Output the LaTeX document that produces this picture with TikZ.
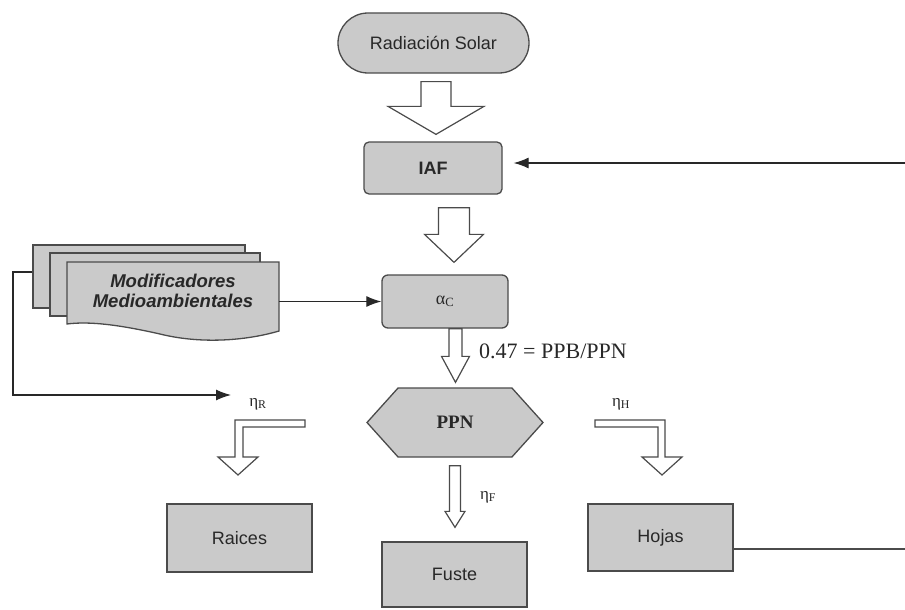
\documentclass[tikz,border=0pt]{standalone}
\usepackage{fontspec}
\setmainfont{Liberation Sans}
\newfontfamily\serifont{Liberation Serif}
\usetikzlibrary{arrows.meta,calc,shapes.symbols}
\definecolor{boxgray}{RGB}{202,202,202}
\definecolor{edge}{RGB}{75,75,75}
\definecolor{txt}{RGB}{40,40,40}
\tikzset{
  box/.style={draw=edge, fill=boxgray, line width=1.3pt, text=txt, inner sep=0pt},
  hollow/.style={draw=edge, fill=white, line width=1.2pt, line join=miter},
  conn/.style={draw=txt, line width=1.2pt, -{Latex[length=15pt,width=11pt]}},
  plainline/.style={draw=edge, line width=1.2pt},
  sanslbl/.style={font=\fontsize{18}{20}\selectfont},
  etalbl/.style={font=\serifont\fontsize{17}{18}\selectfont, text=txt, inner sep=0pt},
}
\newcommand\blockdown[5]{%
  \draw[hollow] let \p1=#1, \p2=#2 in
    (\x2-#3pt,\y1) -- (\x2+#3pt,\y1) -- (\x2+#3pt,\y2+#5pt) -- (\x2+#4pt,\y2+#5pt)
    -- (\x2,\y2) -- (\x2-#4pt,\y2+#5pt) -- (\x2-#3pt,\y2+#5pt) -- cycle;}
\begin{document}
\begin{tikzpicture}[x=1pt,y=-1pt]
\useasboundingbox (0,0) rectangle (905,610);
\fill[white] (0,0) rectangle (905,610);

% main nodes
\node[box, rounded corners=30pt, minimum width=191pt, minimum height=60pt, sanslbl] (rs) at (433.5,43) {Radiación Solar};
\node[box, rounded corners=5pt, minimum width=138pt, minimum height=52pt, font=\bfseries\fontsize{18}{20}\selectfont] (iaf) at (433,168) {IAF};
\node[box, rounded corners=6pt, minimum width=126pt, minimum height=53pt, font=\serifont\fontsize{18}{20}\selectfont] (ac) at (445,301.5) {α\textsubscript{C}};
\node[box, signal, signal to=west and east, signal pointer angle=96, minimum width=176pt, minimum height=69pt, font=\serifont\bfseries\fontsize{19}{20}\selectfont] (ppn) at (455,422.5) {PPN};
\node[box, minimum width=145pt, minimum height=68pt, sanslbl] (raices) at (239.5,538) {Raices};
\node[box, minimum width=145pt, minimum height=65pt, sanslbl] (fuste) at (454.5,574.5) {Fuste};
\node[box, minimum width=145pt, minimum height=67pt, sanslbl] (hojas) at (660.5,537.5) {Hojas};

% stacked documents
\node[box, minimum width=212pt, minimum height=63pt] (mod3) at (139,276.5) {};
\node[box, minimum width=210pt, minimum height=63pt] (mod2) at (155,284.5) {};
\draw[box] (67,262) -- (279,262) -- (279,331)
  .. controls (245,341) and (200,344) .. (160,334)
  .. controls (120,325) and (90,321) .. (67,324) -- cycle;
\node[minimum width=212pt, align=center, text=txt, font=\bfseries\itshape\fontsize{18.5}{20}\selectfont] (mod) at (173,291) {Modificadores\\Medioambientales};

% hollow block arrows
\blockdown{($(rs.south)+(3,8)$)}{($(iaf.north)+(3,-7)$)}{15}{48}{28}
\blockdown{($(iaf.south)+(9,13)$)}{($(ac.north)+(9,-12)$)}{15.5}{29.5}{28}
\blockdown{($(ac.south)+(10.5,0)$)}{($(ppn.north)+(0.5,-5)$)}{6.5}{14}{26}
\blockdown{($(ppn.south)+(0,8)$)}{($(fuste.north)+(0.5,-14)$)}{5.5}{10}{16}

% bent block arrows
\draw[hollow] (305,420) -- (235,420) -- (235,457) -- (218,457) -- (238,475) -- (258,457)
  -- (243,457) -- (243,427) -- (305,427) -- cycle;
\draw[hollow] (595,420) -- (665,420) -- (665,457) -- (682,457) -- (662,475) -- (642,457)
  -- (658,457) -- (658,427) -- (595,427) -- cycle;

% connectors
\coordinate (rin) at (905,163);
\draw[conn, shorten >=11pt] (rin) -- (rin -| iaf.east);
\draw[conn] (mod.east |- ac.west) -- (ac.west);
\coordinate (fbcorner) at (13,395);
\coordinate (fbtip) at (231,395);
\draw[conn] ([yshift=4.5pt]mod3.west) -| (fbcorner) -- (fbtip);
\coordinate (hout) at (905,549);
\draw[plainline] (hojas.east |- hout) -- (hout);

% labels
\node[anchor=west, inner sep=0pt, text=txt, font=\serifont\fontsize{22}{24}\selectfont] (ratio) at (479,351) {0.47 = PPB/PPN};
\node[etalbl] (etaR) at (258,404) {η\textsubscript{R}};
\node[etalbl] (etaH) at (621,404) {η\textsubscript{H}};
\node[etalbl] (etaF) at (488,497) {η\textsubscript{F}};
\end{tikzpicture}
\end{document}
